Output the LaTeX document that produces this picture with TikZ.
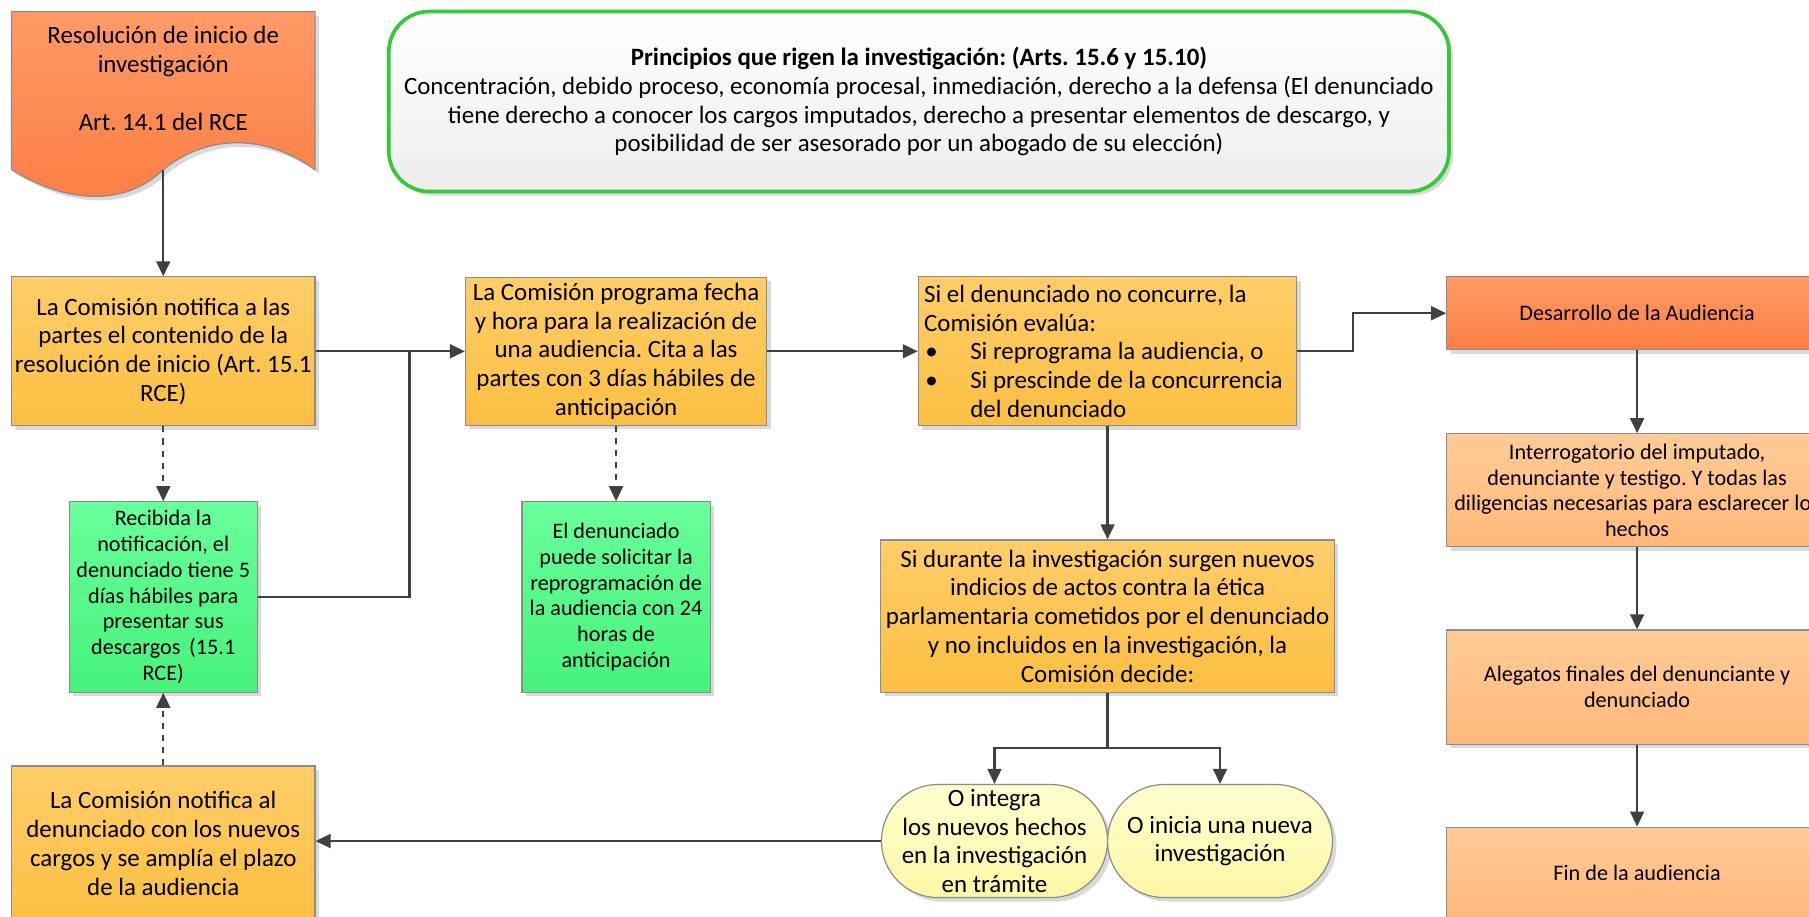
\documentclass[tikz,border=0pt]{standalone}
\usepackage{fontspec}
\setmainfont{Carlito}
\usetikzlibrary{arrows.meta,shadows}
\definecolor{boxline}{HTML}{8C8C8C}
\definecolor{arrowc}{HTML}{404040}
\definecolor{docA}{HTML}{FF9A66}
\definecolor{docB}{HTML}{FC7E44}
\definecolor{yelA}{HTML}{FFCD69}
\definecolor{yelB}{HTML}{FBBF42}
\definecolor{grnA}{HTML}{69FF9B}
\definecolor{grnB}{HTML}{47F27B}
\definecolor{ornA}{HTML}{FFCB98}
\definecolor{ornB}{HTML}{FFB879}
\definecolor{staA}{HTML}{FFFFCF}
\definecolor{staB}{HTML}{FFF7A6}
\definecolor{prinB}{HTML}{EDEDED}
\definecolor{prinline}{HTML}{35C935}
\frenchspacing
\newcommand\bigtxt{\fontsize{12.3}{14.2}\selectfont}
\newcommand\smalltxt{\fontsize{10.95}{12.7}\selectfont}
\newcommand\bul{\makebox[8mm][l]{\hspace{0.2mm}\textbullet}}
\begin{document}
\begin{tikzpicture}[x=0.2mm, y=-0.2mm,
  sz/.style 2 args={minimum width=#1*0.2mm, minimum height=#2*0.2mm},
  shade/.style={drop shadow={shadow xshift=0.7mm, shadow yshift=-0.7mm, fill=black, opacity=0.15}},
  box/.style={draw=boxline, line width=0.6pt, inner sep=0pt, align=center, shade, font=\bigtxt},
  ybox/.style={box, top color=yelA, bottom color=yelB},
  gbox/.style={box, top color=grnA, bottom color=grnB, font=\smalltxt},
  obox/.style={box, top color=ornA, bottom color=ornB, font=\smalltxt},
  rbox/.style={box, top color=docA, bottom color=docB, font=\smalltxt},
  sbox/.style={box, top color=staA, bottom color=staB, rounded corners=9.8mm},
  arr/.style={draw=arrowc, line width=1.1pt, -{Triangle[length=2.6mm, width=2.4mm]}},
  line/.style={draw=arrowc, line width=1.1pt}]
  \clip (0,0) rectangle (1568,794);
  \fill[white] (0,0) rectangle (1568,794);
  \draw[draw=boxline, line width=0.6pt, top color=docA, bottom color=docB, shade] (10,10) -- (273,10) -- (273,147) .. controls (230,116) and (180,116) .. (141.5,147) .. controls (110,178) and (60,178) .. (10,147) -- cycle;
  \node[align=center, font=\bigtxt] (doc) at (141.5,68) {Resolución de inicio de\\investigación\\[14.2pt]Art. 14.1 del RCE};
  \coordinate (docbot) at (141.5,147);
  \node[box, draw=prinline, line width=1.8pt, rounded corners=7mm, top color=white, bottom color=prinB, sz={919}{156}] (prin) at (796.5,88) {\textbf{Principios que rigen la investigación: (Arts. 15.6 y 15.10)}\\Concentración, debido proceso, economía procesal, inmediación, derecho a la defensa (El denunciado\\tiene derecho a conocer los cargos imputados, derecho a presentar elementos de descargo, y\\posibilidad de ser asesorado por un abogado de su elección)};
  \node[ybox, sz={263}{129}] (notif) at (141.5,304.5) {La Comisión notifica a las\\partes el contenido de la\\resolución de inicio (Art. 15.1\\RCE)};
  \node[ybox, sz={261}{128}] (progr) at (534,304.5) {La Comisión programa fecha\\y hora para la realización de\\una audiencia. Cita a las\\partes con 3 días hábiles de\\anticipación};
  \node[ybox, sz={328}{129}, align=flush left, text width=318*0.2mm] (evalua) at (960,304.5) {Si el denunciado no concurre, la\\Comisión evalúa:\\\bul Si reprograma la audiencia, o\\\bul Si prescinde de la concurrencia\\\hspace*{8mm}del denunciado};
  \node[rbox, sz={330}{63}] (desa) at (1419,271.5) {Desarrollo de la Audiencia};
  \node[obox, sz={330}{98}] (inter) at (1419,425) {Interrogatorio del imputado,\\denunciante y testigo. Y todas las\\diligencias necesarias para esclarecer los\\hechos};
  \node[obox, sz={330}{99}] (aleg) at (1419,595.5) {Alegatos finales del denunciante y\\denunciado};
  \node[obox, sz={330}{80}] (fin) at (1419,757) {Fin de la audiencia};
  \node[gbox, sz={163}{165}] (recib) at (141.5,517.5) {Recibida la\\notificación, el\\denunciado tiene 5\\días hábiles para\\presentar sus\\descargos \,(15.1\\RCE)};
  \node[gbox, sz={163}{165}] (solic) at (534,517.5) {El denunciado\\puede solicitar la\\reprogramación de\\la audiencia con 24\\horas de\\anticipación};
  \node[ybox, sz={393}{132}] (decide) at (960,534) {Si durante la investigación surgen nuevos\\indicios de actos contra la ética\\parlamentaria cometidos por el denunciado\\y no incluidos en la investigación, la\\Comisión decide:};
  \node[sbox, sz={196}{98}] (integra) at (862,729) {O integra\\los nuevos hechos\\en la investigación\\en trámite};
  \node[sbox, sz={195}{98}] (nueva) at (1057.5,729) {O inicia una nueva\\investigación};
  \node[ybox, sz={263}{134}] (cargos) at (141.5,731) {La Comisión notifica al\\denunciado con los nuevos\\cargos y se amplía el plazo\\de la audiencia};
  \coordinate (j1) at (355,304.5);
  \draw[arr] (docbot) -- (notif.north);
  \draw[arr] (notif.east) -- (progr.west);
  \draw[line] (recib.east) -| (j1);
  \draw[arr] (progr.east) -- (evalua.west);
  \draw[arr] (evalua.east) -- ++(48,0) |- (desa.west);
  \draw[arr] (desa) -- (inter);
  \draw[arr] (inter) -- (aleg);
  \draw[arr] (aleg) -- (fin);
  \draw[arr, dashed] (notif) -- (recib);
  \draw[arr, dashed] (progr) -- (solic);
  \draw[arr, dashed] (cargos) -- (recib);
  \draw[arr] (evalua) -- (decide);
  \draw[arr] (decide.south) -- ++(0,48) -| (integra.north);
  \draw[arr] (decide.south) -- ++(0,48) -| (nueva.north);
  \draw[arr] (integra.west) -- (integra.west -| cargos.east);
\end{tikzpicture}
\end{document}
